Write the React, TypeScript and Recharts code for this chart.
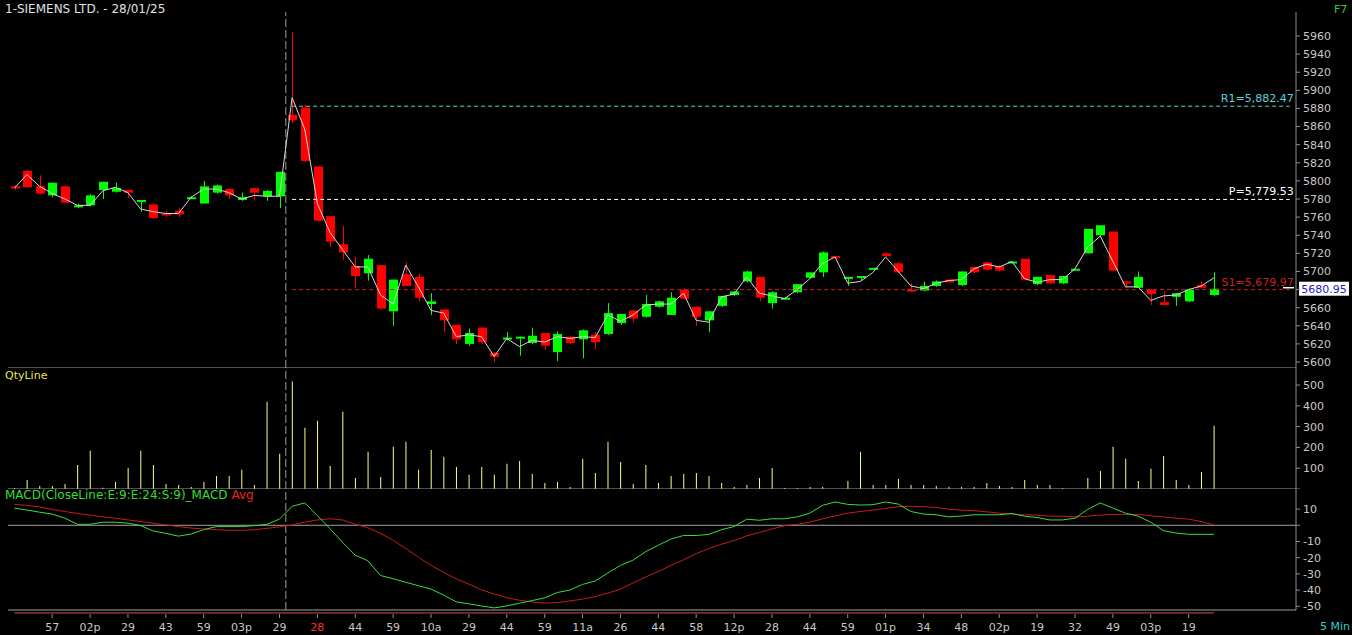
import React from 'react';
import { ComposedChart, Bar, Line, XAxis, YAxis, ReferenceLine } from 'recharts';

const W = 1352;
const SLOTS = 102; // 96 candles + empty room before the price axis

// OHLC of the 5 min candles
const opens = [
  5794, 5811, 5794, 5784, 5794, 5772, 5773, 5790, 5788, 5790, 5778, 5774, 5764, 5767, 5781, 5775,
  5787, 5791, 5779, 5792, 5783, 5783, 5873, 5881, 5816, 5761, 5730, 5706, 5698, 5707, 5656, 5697,
  5694, 5664, 5658, 5641, 5620, 5638, 5610, 5626, 5627, 5621, 5632, 5611, 5628, 5625, 5630, 5631,
  5643, 5657, 5650, 5661, 5652, 5680, 5661, 5646, 5662, 5674, 5689, 5694, 5665, 5670, 5677, 5693,
  5699, 5717, 5693, 5694, 5703, 5720, 5709, 5680, 5679, 5684, 5691, 5685, 5705, 5710, 5706, 5710,
  5714, 5686, 5696, 5687, 5702, 5720, 5740, 5744, 5689, 5682, 5680, 5666, 5672, 5667, 5685, 5674,
];
const highs = [
  5795, 5812, 5806, 5798, 5795, 5775, 5785, 5799, 5798, 5790, 5779, 5775, 5767, 5770, 5783, 5800,
  5796, 5791, 5787, 5792, 5790, 5810, 5964, 5884, 5816, 5761, 5750, 5716, 5718, 5707, 5691, 5710,
  5698, 5676, 5658, 5641, 5637, 5638, 5611, 5633, 5628, 5638, 5632, 5634, 5628, 5636, 5633, 5665,
  5653, 5658, 5674, 5668, 5677, 5681, 5661, 5656, 5673, 5678, 5701, 5694, 5678, 5672, 5686, 5699,
  5722, 5717, 5694, 5695, 5704, 5721, 5710, 5687, 5689, 5690, 5691, 5700, 5705, 5711, 5707, 5711,
  5714, 5694, 5696, 5695, 5703, 5747, 5751, 5744, 5689, 5700, 5680, 5678, 5676, 5681, 5689, 5699,
];
const lows = [
  5790, 5792, 5785, 5782, 5775, 5770, 5772, 5780, 5787, 5781, 5766, 5758, 5760, 5760, 5780, 5775,
  5786, 5780, 5778, 5778, 5778, 5770, 5864, 5821, 5755, 5727, 5713, 5682, 5690, 5658, 5640, 5684,
  5667, 5652, 5633, 5620, 5618, 5620, 5600, 5624, 5607, 5620, 5614, 5601, 5620, 5604, 5614, 5630,
  5641, 5644, 5649, 5660, 5652, 5669, 5640, 5633, 5661, 5673, 5688, 5667, 5659, 5669, 5676, 5692,
  5694, 5714, 5684, 5690, 5702, 5716, 5698, 5677, 5678, 5683, 5688, 5684, 5698, 5701, 5700, 5710,
  5690, 5685, 5686, 5686, 5702, 5720, 5739, 5700, 5682, 5682, 5663, 5663, 5662, 5666, 5681, 5673,
];
const closes = [
  5792, 5793, 5786, 5798, 5776, 5773, 5784, 5799, 5792, 5787, 5779, 5759, 5763, 5763, 5782, 5794,
  5795, 5784, 5782, 5787, 5789, 5810, 5867, 5822, 5756, 5733, 5721, 5695, 5714, 5659, 5691, 5684,
  5671, 5667, 5646, 5625, 5632, 5622, 5606, 5627, 5628, 5629, 5618, 5631, 5621, 5635, 5622, 5654,
  5653, 5648, 5664, 5667, 5671, 5670, 5650, 5656, 5673, 5678, 5700, 5671, 5677, 5671, 5686, 5699,
  5721, 5715, 5694, 5695, 5704, 5717, 5699, 5679, 5684, 5689, 5688, 5700, 5699, 5702, 5701, 5711,
  5691, 5694, 5687, 5695, 5703, 5747, 5751, 5701, 5688, 5694, 5675, 5663, 5676, 5680, 5682, 5680.95,
];
// thin white price line
const priceLine = [
  5792, 5807, 5794, 5786, 5780, 5773, 5773, 5789, 5793, 5787, 5769, 5766, 5764, 5764, 5782, 5791,
  5791, 5787, 5780, 5784, 5783, 5783, 5892, 5857, 5775, 5743, 5724, 5705, 5705, 5674, 5664, 5707,
  5683, 5657, 5654, 5628, 5630, 5628, 5606, 5626, 5617, 5624, 5622, 5628, 5626, 5628, 5627, 5652,
  5645, 5652, 5663, 5664, 5664, 5676, 5646, 5644, 5672, 5675, 5694, 5676, 5673, 5670, 5680, 5692,
  5709, 5716, 5687, 5689, 5699, 5716, 5700, 5684, 5681, 5687, 5690, 5691, 5703, 5708, 5705, 5711,
  5692, 5688, 5691, 5691, 5703, 5727, 5739, 5711, 5683, 5683, 5668, 5673, 5674, 5680, 5684, 5693,
];
const volumes = [
  5, 43, 14, 14, 24, 116, 184, 6, 34, 101, 184, 116, 24, 19, 10, 34,
  63, 63, 92, 19, 420, 169, 517, 295, 328, 111, 372, 53, 179, 58, 203, 227,
  92, 188, 155, 106, 68, 106, 68, 121, 135, 72, 29, 34, 10, 145, 77, 227,
  130, 24, 116, 29, 63, 72, 77, 63, 29, 10, 19, 53, 101, 5, 5, 10,
  10, 0, 39, 179, 19, 19, 48, 19, 19, 14, 10, 10, 10, 29, 14, 10,
  43, 19, 19, 5, 0, 53, 87, 203, 145, 39, 97, 159, 43, 19, 82, 304,
];
const macdVals = [
  10.6, 9.4, 8.1, 6.9, 4.4, 0.6, 0.6, 1.9, 1.9, 1.3, -0.2, -3.5, -5.0, -6.7, -5.4, -2.7,
  -0.8, -0.8, -0.8, -0.2, 0.6, 3.8, 11.7, 13.8, 6.0, -2.1, -10.6, -18.5, -21.9, -31.0, -33.0, -35.2,
  -37.3, -39.4, -43.1, -47.3, -48.5, -49.8, -51.0, -49.8, -48.1, -46.5, -44.8, -41.5, -40.0, -36.5, -34.4, -29.4,
  -24.8, -21.5, -16.3, -12.3, -8.5, -6.3, -6.3, -5.6, -2.7, -0.8, 3.8, 3.1, 4.0, 4.0, 5.2, 7.5,
  12.3, 14.4, 12.9, 12.5, 12.7, 14.4, 13.1, 8.5, 6.9, 6.5, 5.2, 5.7, 6.5, 6.5, 6.5, 7.3,
  5.6, 4.8, 3.3, 3.3, 4.4, 9.8, 13.8, 10.6, 7.5, 5.6, 1.9, -3.3, -4.8, -5.6, -5.6, -5.6,
];
const avgVals = [
  12.9, 12.3, 11.3, 9.8, 8.5, 7.3, 6.3, 5.2, 4.4, 3.3, 2.3, 1.3, 0.2, -0.8, -1.7, -2.3,
  -2.7, -3.1, -3.1, -2.7, -1.9, -1.0, 0.2, 1.9, 3.3, 4.0, 3.3, 0.6, -1.5, -5.0, -9.2, -14.4,
  -19.6, -24.8, -29.0, -33.1, -36.3, -39.8, -42.5, -44.6, -46.3, -47.3, -48.1, -47.7, -46.7, -45.6, -44.0, -41.9,
  -39.4, -35.6, -31.9, -28.5, -24.8, -21.3, -17.5, -14.4, -11.7, -9.4, -6.5, -4.4, -2.3, -0.2, 0.6, 1.9,
  4.0, 5.8, 7.5, 8.5, 9.4, 10.4, 11.5, 11.7, 11.5, 11.0, 10.0, 9.3, 9.0, 8.3, 7.5, 6.9,
  6.5, 6.3, 5.6, 5.6, 5.2, 5.6, 6.3, 6.7, 6.7, 6.7, 5.8, 5.2, 4.4, 3.8, 2.3, 0.2,
];
// time labels, one every 3 candles starting at candle 3
const timeLabels = [
  '57', '02p', '29', '43', '59', '03p', '29', '28', '44', '59', '10a', '29', '44', '59', '11a', '26',
  '44', '58', '12p', '28', '44', '59', '01p', '34', '48', '02p', '19', '32', '49', '03p', '19',
];
const dayChangeLabel = 7; // '28' drawn in red

const priceTicks = [
  5600, 5620, 5640, 5660, 5680, 5700, 5720, 5740, 5760, 5780, 5800, 5820, 5840, 5860, 5880, 5900,
  5920, 5940, 5960,
];
const volTicks = [0, 100, 200, 300, 400, 500];
const macdTicks = [10, 0, -10, -20, -30, -40, -50];

const R1 = 5882.47;
const PIVOT = 5779.53;
const S1 = 5679.97;
const LAST = 5680.95;

const PRICE_DOMAIN: [number, number] = [5593.4, 5986.5];
const VOL_DOMAIN: [number, number] = [0, 582];
const MACD_DOMAIN: [number, number] = [-52.3, 22.4];

const GREEN = '#00ff00';
const RED = '#ff0000';
const AXIS = '#909090';
const TXT = '#c8c8c8';
const SEP = '#a0a0a0';
const FONT = '"DejaVu Sans", Verdana, sans-serif';

const rows = Array.from({ length: SLOTS }, (_, i) =>
  i < opens.length
    ? {
        idx: i,
        open: opens[i],
        high: highs[i],
        low: lows[i],
        close: closes[i],
        range: [lows[i], highs[i]],
        line: priceLine[i],
        vol: volumes[i],
        macd: macdVals[i],
        avg: avgVals[i],
      }
    : { idx: i }
);

const Candle = (props: any) => {
  const { x, y, width, height, payload } = props;
  if (!payload || payload.open == null) return null;
  const { open, close, high, low } = payload;
  const color = close >= open ? GREEN : RED;
  const span = high - low;
  const toY = (v: number) => (span > 0 ? y + ((high - v) / span) * height : y);
  const cx = Math.round(x + width / 2) + 0.5;
  const top = toY(Math.max(open, close));
  const bottom = toY(Math.min(open, close));
  return (
    <g>
      <line x1={cx} x2={cx} y1={y} y2={y + height} stroke={color} strokeWidth={1} />
      <rect x={cx - 4.5} y={top} width={9} height={Math.max(bottom - top, 2)} fill={color} />
    </g>
  );
};

const EndLabel = ({ viewBox, text, color }: any) => {
  if (!viewBox) return null;
  return (
    <text x={viewBox.x + viewBox.width + 4} y={viewBox.y - 4} fill={color} fontSize={11} textAnchor="end" fontFamily={FONT}>
      {text}
    </text>
  );
};

const LastPrice = ({ viewBox }: any) => {
  if (!viewBox) return null;
  const right = viewBox.x + viewBox.width;
  const y = viewBox.y;
  return (
    <g>
      <line x1={right - 13} x2={right - 2} y1={y - 1} y2={y - 1} stroke="#ffffff" strokeWidth={1.5} />
      <rect x={right + 3} y={y - 7} width={50} height={14} fill="#ffffff" />
      <text x={right + 28} y={y + 4} fill="#1a1ac8" fontSize={11} textAnchor="middle" fontFamily={FONT}>
        {LAST.toFixed(2)}
      </text>
    </g>
  );
};

const TimeTick = (props: any) => {
  const { x, y, payload } = props;
  const idx = Number(payload.value);
  const k = idx / 3 - 1;
  if (idx % 3 !== 0 || k < 0 || k >= timeLabels.length) return null;
  return (
    <g>
      <line x1={x} x2={x} y1={y + 4} y2={y + 8} stroke={AXIS} />
      <text x={x} y={y + 21} fill={k === dayChangeLabel ? '#ff3030' : TXT} fontSize={11} textAnchor="middle" fontFamily={FONT}>
        {timeLabels[k]}
      </text>
    </g>
  );
};

const margin = { top: 0, right: 0, bottom: 0, left: 8 };
const yAxisProps = {
  orientation: 'right' as const,
  width: 56,
  allowDataOverflow: true,
  interval: 0,
  tickSize: 4,
  tickMargin: 3,
  stroke: AXIS,
  tick: { fill: TXT, fontSize: 11, fontFamily: FONT },
};
const dayLine = <ReferenceLine x={21} position="end" stroke="#9a9a9a" strokeDasharray="8 3" ifOverflow="visible" />;

export default function App() {
  return (
    <div style={{ position: 'absolute', left: 0, top: 0, width: W, height: 635, background: '#000', fontFamily: FONT, overflow: 'hidden' }}>
      {/* price panel */}
      <div style={{ position: 'absolute', left: 0, top: 0 }}>
        <ComposedChart width={W} height={368} data={rows} margin={{ ...margin, top: 12 }}>
          <XAxis dataKey="idx" type="category" scale="band" hide />
          <YAxis
            {...yAxisProps}
            domain={PRICE_DOMAIN}
            ticks={priceTicks}
            tickFormatter={(v: number) => (v === 5680 ? '' : String(v))}
          />
          <ReferenceLine y={PRICE_DOMAIN[0]} stroke={SEP} />
          {dayLine}
          <ReferenceLine
            segment={[{ x: 22, y: R1 }, { x: 101, y: R1 }]}
            stroke="#5fd0d8"
            strokeDasharray="4 3"
            label={<EndLabel text="R1=5,882.47" color="#5fd0d8" />}
          />
          <ReferenceLine
            segment={[{ x: 22, y: PIVOT }, { x: 101, y: PIVOT }]}
            stroke="#ffffff"
            strokeDasharray="4 3"
            label={<EndLabel text="P=5,779.53" color="#ffffff" />}
          />
          <ReferenceLine
            segment={[{ x: 22, y: S1 }, { x: 101, y: S1 }]}
            stroke="#c82020"
            strokeDasharray="4 3"
            label={<EndLabel text="S1=5,679.97" color="#c82020" />}
          />
          <ReferenceLine y={LAST} stroke="none" label={<LastPrice />} />
          <Bar dataKey="range" barSize={9} shape={Candle} isAnimationActive={false} />
          <Line dataKey="line" stroke="#d8d8d8" strokeWidth={1} dot={false} isAnimationActive={false} />
        </ComposedChart>
      </div>

      {/* volume panel */}
      <div style={{ position: 'absolute', left: 0, top: 368 }}>
        <ComposedChart width={W} height={121} data={rows} margin={margin}>
          <XAxis dataKey="idx" type="category" scale="band" hide />
          <YAxis {...yAxisProps} domain={VOL_DOMAIN} ticks={volTicks} tickFormatter={(v: number) => (v === 0 ? '' : String(v))} />
          <ReferenceLine y={0} stroke={SEP} />
          {dayLine}
          <Bar dataKey="vol" barSize={1} fill="#ffff88" isAnimationActive={false} />
        </ComposedChart>
      </div>

      {/* MACD panel */}
      <div style={{ position: 'absolute', left: 0, top: 489 }}>
        <ComposedChart width={W} height={146} data={rows} margin={margin}>
          <XAxis
            dataKey="idx"
            type="category"
            scale="band"
            height={25}
            interval={2}
            tickSize={0}
            tickMargin={0}
            tickLine={false}
            stroke={SEP}
            tick={<TimeTick />}
          />
          <YAxis {...yAxisProps} domain={MACD_DOMAIN} ticks={macdTicks} tickFormatter={(v: number) => (v === 0 ? '' : String(v))} />
          <ReferenceLine y={0} stroke={SEP} />
          <ReferenceLine segment={[{ x: 0, y: -54.1 }, { x: 95, y: -54.1 }]} stroke="#d85050" ifOverflow="visible" />
          {dayLine}
          <Line dataKey="avg" stroke="#c81c1c" strokeWidth={1} dot={false} isAnimationActive={false} />
          <Line dataKey="macd" stroke="#3cdc3c" strokeWidth={1} dot={false} isAnimationActive={false} />
        </ComposedChart>
      </div>

      {/* panel captions */}
      <svg width={W} height={635} style={{ position: 'absolute', left: 0, top: 0, pointerEvents: 'none' }}>
        <text x={5} y={13} fill="#e0e0e0" fontSize={12} fontFamily={FONT}>1-SIEMENS LTD. - 28/01/25</text>
        <text x={1334} y={13} fill="#33cc33" fontSize={11} fontFamily={FONT}>F7</text>
        <text x={5} y={379} fill="#e6e64c" fontSize={11} fontFamily={FONT}>QtyLine</text>
        <text x={5} y={499} fontSize={12} fontFamily={FONT}>
          <tspan fill="#33dd33">MACD(CloseLine:E:9:E:24:S:9)_MACD</tspan>
          <tspan fill="#ee2020"> Avg</tspan>
        </text>
        <text x={1320} y={630} fill="#33cccc" fontSize={11} fontFamily={FONT}>5 Min</text>
      </svg>
    </div>
  );
}
